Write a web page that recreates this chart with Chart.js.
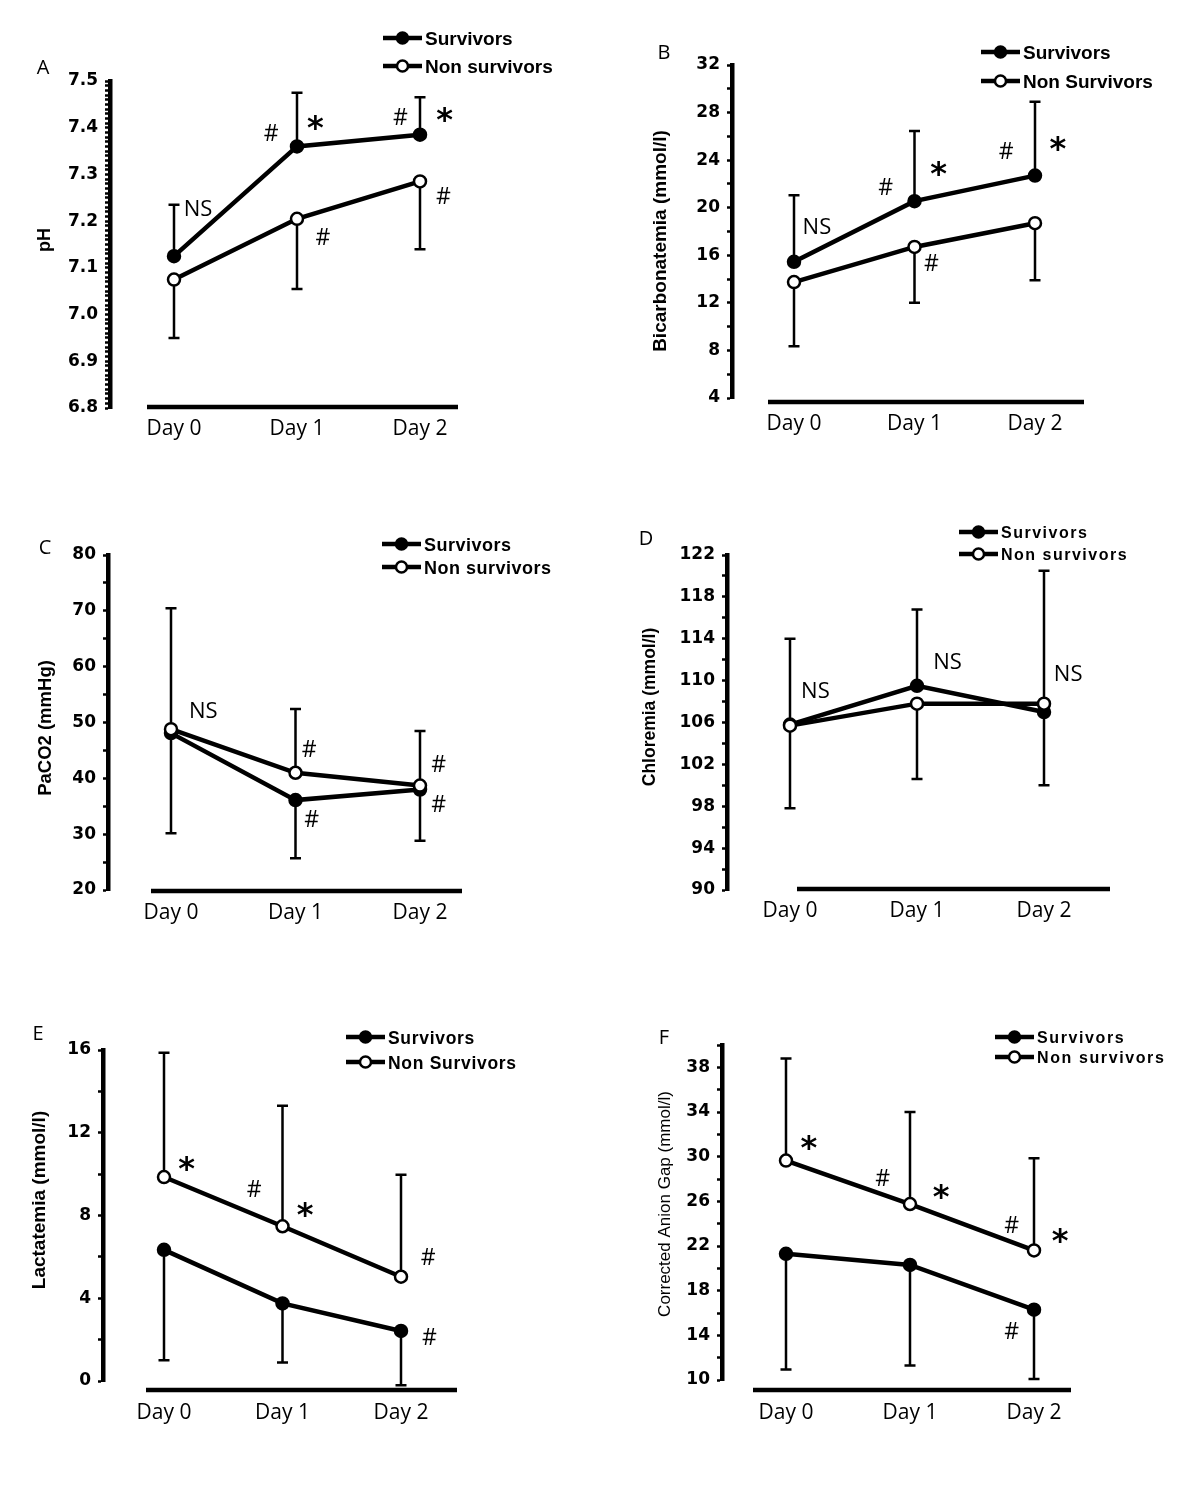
<!DOCTYPE html>
<html>
<head>
<meta charset="utf-8">
<script src="https://cdn.jsdelivr.net/npm/chart.js@4.4.1/dist/chart.umd.min.js"></script>
<style>
  html, body { margin: 0; padding: 0; background: #fff; }
  #page { position: relative; width: 1200px; height: 1488px; overflow: hidden; }
  canvas { position: absolute; }
</style>
</head>
<body>
<div id="page">
  <canvas id="chartA"></canvas>
  <canvas id="chartB"></canvas>
  <canvas id="chartC"></canvas>
  <canvas id="chartD"></canvas>
  <canvas id="chartE"></canvas>
  <canvas id="chartF"></canvas>
</div>
<script>
// categories shared by all panels
const days = ['Day 0', 'Day 1', 'Day 2'];
const survivorsLabel = 'Survivors';

// A - pH
const phSurv = [7.125, 7.36, 7.385];
const phSurvSD = [0.11, 0.115, 0.08];
const phNon = [7.075, 7.205, 7.285];
const phNonSD = [0.125, 0.15, 0.145];
const phRange = [6.8, 7.5];
const phTicks = ['6.8', '6.9', '7.0', '7.1', '7.2', '7.3', '7.4', '7.5'];
const phMarks = [['NS', 0.195, 7.228], ['#', 0.79, 7.389], ['*', 1.15, 7.411], ['#', 1.84, 7.425],
                 ['*', 2.2, 7.429], ['#', 1.21, 7.167], ['#', 2.19, 7.254]];

// B - bicarbonatemia
const bicSurv = [15.45, 20.55, 22.7];
const bicSurvSD = [5.6, 5.9, 6.2];
const bicNon = [13.75, 16.7, 18.7];
const bicNonSD = [5.4, 4.7, 4.8];
const bicRange = [4, 32];
const bicTicks = ['4', '8', '12', '16', '20', '24', '28', '32'];
const bicMarks = [['NS', 0.19, 18.5], ['#', 0.76, 21.8], ['*', 1.2, 23.3], ['#', 1.76, 24.8],
                  ['*', 2.19, 25.4], ['#', 1.14, 15.4]];

// C - PaCO2
const co2Surv = [48.1, 36.1, 38.0];
const co2SurvSD = [17.95, 10.4, 9.2];
const co2Non = [48.8, 41.0, 38.7];
const co2NonSD = [21.65, 11.4, 9.8];
const co2Range = [20, 80];
const co2Ticks = ['20', '30', '40', '50', '60', '70', '80'];
const co2Marks = [['NS', 0.26, 52.2], ['#', 1.11, 45.4], ['#', 1.13, 32.8], ['#', 2.15, 42.6], ['#', 2.15, 35.5]];

// D - chloremia
const clSurv = [105.8, 109.5, 107.0];
const clSurvSD = [8.2, 7.3, 13.5];
const clNon = [105.7, 107.8, 107.8];
const clNonSD = [7.9, 7.2, 7.8];
const clRange = [90, 122];
const clTicks = ['90', '94', '98', '102', '106', '110', '114', '118', '122'];
const clMarks = [['NS', 0.2, 109.1], ['NS', 1.24, 111.9], ['NS', 2.19, 110.7]];

// E - lactatemia
const lacSurv = [6.34, 3.75, 2.42];
const lacSurvSD = [5.34, 2.85, 2.62];
const lacNon = [9.86, 7.48, 5.04];
const lacNonSD = [6.01, 5.82, 4.93];
const lacRange = [0, 16];
const lacTicks = ['0', '4', '8', '12', '16'];
const lacMarks = [['*', 0.19, 10.5], ['#', 0.76, 9.3], ['*', 1.19, 8.3], ['#', 2.23, 6.0], ['#', 2.24, 2.15]];

// F - corrected anion gap
const agSurv = [21.3, 20.3, 16.3];
const agSurvSD = [10.36, 9.0, 6.2];
const agNon = [29.65, 25.76, 21.6];
const agNonSD = [9.15, 8.24, 8.25];
const agRange = [10, 40];
const agTicks = ['10', '14', '18', '22', '26', '30', '34', '38'];
const agMarks = [['*', 0.185, 31.3], ['#', 0.78, 28.1], ['*', 1.25, 26.9], ['#', 1.82, 23.9],
                 ['*', 2.21, 22.9], ['#', 1.82, 14.4]];

// page layout of the six panels (page pixel coordinates)
const panels = [
  { canvas: 'chartA', letter: 'A', box: [0, 0, 600, 490], area: [110, 81, 458, 408], day0: 174, day2: 420,
    xLine: [147, 407], xPad: 8.4, letterPos: [43, 67], legendX: 383, legendY: [38, 66], legendFont: [19, 0],
    title: 'pH', titlePos: [45, 240], titleFont: 'bold 18px "Liberation Sans"',
    yRange: phRange, yStep: 0.01, yLabels: phTicks, nonLabel: 'Non survivors', marks: phMarks,
    series: [{ values: phSurv, sd: phSurvSD, dir: 1 }, { values: phNon, sd: phNonSD, dir: -1 }] },
  { canvas: 'chartB', letter: 'B', box: [600, 0, 600, 490], area: [732, 65, 1084, 398], day0: 794, day2: 1035,
    xLine: [768, 402], xPad: 13.4, letterPos: [664, 52], legendX: 981, legendY: [52, 81], legendFont: [19, 0],
    title: 'Bicarbonatemia (mmol/l)', titlePos: [661, 241], titleFont: 'bold 19px "Liberation Sans"',
    yRange: bicRange, yStep: 2, yLabels: bicTicks, nonLabel: 'Non Survivors', marks: bicMarks,
    series: [{ values: bicSurv, sd: bicSurvSD, dir: 1 }, { values: bicNon, sd: bicNonSD, dir: -1 }] },
  { canvas: 'chartC', letter: 'C', box: [0, 490, 600, 490], area: [108, 555, 462, 890], day0: 171, day2: 420,
    xLine: [151, 891], xPad: 10.4, letterPos: [45, 547], legendX: 382, legendY: [544, 567], legendFont: [18, 0.5],
    title: 'PaCO2 (mmHg)', titlePos: [46, 728], titleFont: 'bold 18.5px "Liberation Sans"',
    yRange: co2Range, yStep: 5, yLabels: co2Ticks, nonLabel: 'Non survivors', marks: co2Marks,
    series: [{ values: co2Surv, sd: co2SurvSD, dir: -1 }, { values: co2Non, sd: co2NonSD, dir: 1 }] },
  { canvas: 'chartD', letter: 'D', box: [600, 490, 600, 490], area: [727, 555, 1110, 890], day0: 790, day2: 1044,
    xLine: [797, 889], xPad: 8.4, letterPos: [646, 538], legendX: 959, legendY: [532, 554], legendFont: [16, 1.5],
    title: 'Chloremia (mmol/l)', titlePos: [650, 707], titleFont: 'bold 17.5px "Liberation Sans"',
    yRange: clRange, yStep: 2, yLabels: clTicks, nonLabel: 'Non survivors', marks: clMarks,
    series: [{ values: clSurv, sd: clSurvSD, dir: 1 }, { values: clNon, sd: clNonSD, dir: -1 }] },
  { canvas: 'chartE', letter: 'E', box: [0, 980, 600, 508], area: [103, 1050, 457, 1381], day0: 164, day2: 401,
    xLine: [146, 1390], xPad: 19.4, letterPos: [38, 1033], legendX: 346, legendY: [1037, 1062], legendFont: [17.5, 0.7],
    title: 'Lactatemia (mmol/l)', titlePos: [40, 1200], titleFont: 'bold 19px "Liberation Sans"',
    yRange: lacRange, yStep: 2, yLabels: lacTicks, nonLabel: 'Non Survivors', marks: lacMarks,
    series: [{ values: lacSurv, sd: lacSurvSD, dir: -1 }, { values: lacNon, sd: lacNonSD, dir: 1 }] },
  { canvas: 'chartF', letter: 'F', box: [600, 980, 600, 508], area: [722, 1045, 1071, 1380], day0: 786, day2: 1034,
    xLine: [753, 1390], xPad: 20.4, letterPos: [664, 1037], legendX: 995, legendY: [1037, 1057], legendFont: [16, 1.6],
    title: 'Corrected Anion Gap (mmol/l)', titlePos: [665, 1204], titleFont: '17px "Liberation Sans"',
    yRange: agRange, yStep: 2, yLabels: agTicks, nonLabel: 'Non survivors', marks: agMarks,
    series: [{ values: agSurv, sd: agSurvSD, dir: -1 }, { values: agNon, sd: agNonSD, dir: 1 }] }
];

const Y_W = 70;
const X_H = 60;

// draw text so that its visible glyphs are centred vertically on y
function fillCentered(ctx, text, x, y) {
  const m = ctx.measureText(text);
  ctx.fillText(text, x, y + (m.actualBoundingBoxAscent - m.actualBoundingBoxDescent) / 2);
}

function minorTicks(range, step) {
  const n = Math.round((range[1] - range[0]) / step);
  const out = [];
  for (let k = 0; k <= n; k++) out.push({ value: +(range[0] + k * step).toFixed(6) });
  return out;
}

function makeDeco(p) {
  const ox = p.box[0], oy = p.box[1];
  return {
    id: 'deco' + p.letter,
    // error bars go under lines and markers
    beforeDatasetsDraw(chart) {
      const ctx = chart.ctx, xs = chart.scales.x, ys = chart.scales.y;
      ctx.save();
      ctx.strokeStyle = '#000';
      ctx.lineWidth = 2.5;
      p.series.forEach(s => {
        s.values.forEach((v, i) => {
          const x = xs.getPixelForValue(i);
          const y0 = ys.getPixelForValue(v);
          const y1 = ys.getPixelForValue(v + s.dir * s.sd[i]);
          ctx.beginPath();
          ctx.moveTo(x, y0);
          ctx.lineTo(x, y1);
          ctx.moveTo(x - 5.5, y1);
          ctx.lineTo(x + 5.5, y1);
          ctx.stroke();
        });
      });
      ctx.restore();
    },
    afterDraw(chart) {
      const ctx = chart.ctx, xs = chart.scales.x, ys = chart.scales.y;
      ctx.save();
      ctx.fillStyle = '#000';
      ctx.strokeStyle = '#000';

      // detached x axis line
      ctx.lineWidth = 4.5;
      ctx.beginPath();
      ctx.moveTo(p.xLine[0] - ox, p.xLine[1] - oy);
      ctx.lineTo(chart.chartArea.right, p.xLine[1] - oy);
      ctx.stroke();

      // panel letter
      ctx.textAlign = 'center';
      ctx.font = '20px "Open Sans"';
      fillCentered(ctx, p.letter, p.letterPos[0] - ox, p.letterPos[1] - oy);

      // y axis title
      ctx.save();
      ctx.translate(p.titlePos[0] - ox, p.titlePos[1] - oy);
      ctx.rotate(-Math.PI / 2);
      ctx.font = p.titleFont;
      ctx.textBaseline = 'middle';
      ctx.fillText(p.title, 0, 0);
      ctx.restore();

      // legend
      const names = [survivorsLabel, p.nonLabel];
      const fills = ['#000', '#fff'];
      names.forEach((name, k) => {
        const x0 = p.legendX - ox, y = p.legendY[k] - oy;
        ctx.lineWidth = 4.5;
        ctx.beginPath();
        ctx.moveTo(x0, y);
        ctx.lineTo(x0 + 39, y);
        ctx.stroke();
        ctx.beginPath();
        ctx.arc(x0 + 19.5, y, 5.5, 0, Math.PI * 2);
        ctx.fillStyle = fills[k];
        ctx.fill();
        ctx.lineWidth = 2.5;
        ctx.stroke();
        ctx.fillStyle = '#000';
        ctx.font = 'bold ' + p.legendFont[0] + 'px "Liberation Sans"';
        ctx.letterSpacing = p.legendFont[1] + 'px';
        ctx.textAlign = 'left';
        fillCentered(ctx, name, x0 + 42, y);
        ctx.letterSpacing = '0px';
      });

      // significance marks
      ctx.textAlign = 'center';
      p.marks.forEach(([t, x, y]) => {
        ctx.font = t === '*' ? 'bold 32px "DejaVu Sans"' : (t === '#' ? '23px "Open Sans"' : '22px "Open Sans"');
        fillCentered(ctx, t, xs.getPixelForValue(x), ys.getPixelForValue(y));
      });
      ctx.restore();
    }
  };
}

function buildPanel(p) {
  const canvas = document.getElementById(p.canvas);
  const [bx, by, bw, bh] = p.box;
  const [al, at, ar, ab] = p.area;
  canvas.width = bw;
  canvas.height = bh;
  canvas.style.left = bx + 'px';
  canvas.style.top = by + 'px';
  canvas.style.width = bw + 'px';
  canvas.style.height = bh + 'px';

  const unit = (p.day2 - p.day0) / 2;
  const line = (s, fill, order, label) => ({
    label: label,
    data: s.values.map((v, i) => ({ x: i, y: v })),
    order: order,
    borderColor: '#000',
    borderWidth: 4.5,
    tension: 0,
    clip: false,
    pointRadius: 6,
    pointBackgroundColor: fill,
    pointBorderColor: '#000',
    pointBorderWidth: 2.5
  });

  return new Chart(canvas, {
    type: 'line',
    data: {
      datasets: [
        line(p.series[0], '#000', 2, survivorsLabel),
        line(p.series[1], '#fff', 1, p.nonLabel)
      ]
    },
    options: {
      responsive: false,
      animation: false,
      layout: {
        padding: { left: al - bx - Y_W, top: at - by, right: bx + bw - ar, bottom: by + bh - ab - X_H }
      },
      plugins: { legend: { display: false }, tooltip: { enabled: false } },
      scales: {
        x: {
          type: 'linear',
          min: -(p.day0 - al) / unit,
          max: 2 + (ar - p.day2) / unit,
          afterBuildTicks: s => { s.ticks = days.map((d, i) => ({ value: i })); },
          afterFit: s => { s.height = X_H; },
          ticks: {
            autoSkip: false,
            maxRotation: 0,
            padding: p.xPad,
            color: '#000',
            font: { family: 'Open Sans', size: 21 },
            callback: v => days[v] ?? ''
          },
          grid: { display: false, drawTicks: false },
          border: { display: false }
        },
        y: {
          type: 'linear',
          min: p.yRange[0],
          max: p.yRange[1],
          afterBuildTicks: s => { s.ticks = minorTicks(p.yRange, p.yStep); },
          afterFit: s => { s.width = Y_W; },
          ticks: {
            autoSkip: false,
            padding: 7,
            color: '#000',
            font: { family: 'DejaVu Sans', weight: 'bold', size: 17 },
            callback: v => p.yLabels.find(t => Math.abs(parseFloat(t) - v) < 1e-6) ?? ''
          },
          grid: { drawOnChartArea: false, drawTicks: true, tickLength: 5, tickWidth: 2.5, tickColor: '#000', color: '#000' },
          border: { display: true, color: '#000', width: 4.5 }
        }
      }
    },
    plugins: [makeDeco(p)]
  });
}

panels.forEach(buildPanel);
</script>
</body>
</html>
